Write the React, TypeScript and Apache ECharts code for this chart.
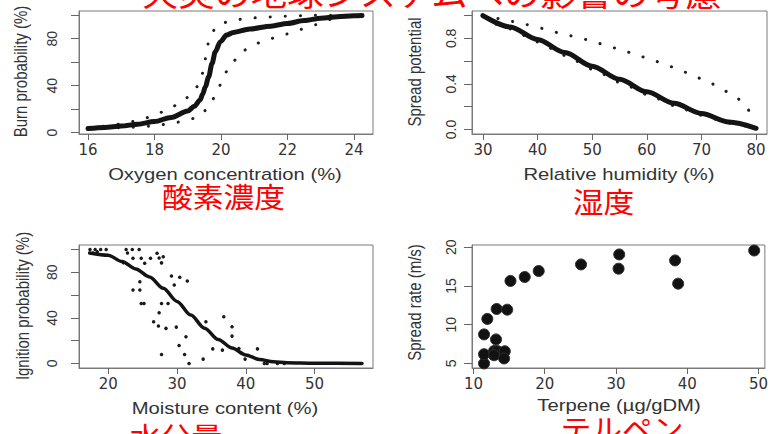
import React, { useEffect, useRef } from "react";
import * as echarts from "echarts";

// ---------- Texts ----------
const titleText = "火災の地球システムへの影響の考慮";
const redLabels = ["酸素濃度", "湿度", "水分量", "テルペン"];
const xTitles = ["Oxygen concentration (%)", "Relative humidity (%)", "Moisture content (%)", "Terpene (\u00b5g/gDM)"];
const yTitles = ["Burn probability (%)", "Spread potential", "Ignition probability (%)", "Spread rate (m/s)"];

// ---------- Panel 1: oxygen ----------
const burnFit: number[][] = [
  [16, 3.5], [16.5, 4.5], [17, 5.7], [17.5, 7.2], [18, 9.5], [18.5, 13], [19, 18.5], [19.2, 22.5],
  [19.37, 27.8], [19.45, 33], [19.53, 39.2], [19.63, 47.7], [19.73, 59], [19.83, 69], [19.98, 77.5],
  [20.17, 83.1], [20.37, 85.4], [20.87, 88.3], [21.5, 90.7], [22, 93], [22.5, 95.5], [23, 97.5],
  [23.5, 98.8], [24, 99.5], [24.24, 99.7],
];
const burnUpper: number[][] = [
  [16, 4], [16.5, 5.5], [17, 7.4], [17.5, 10.2], [17.96, 14.2], [18.37, 19.3], [18.77, 25], [19.12, 32.7],
  [19.35, 41.2], [19.47, 52], [19.52, 61.9], [19.57, 71.8], [19.67, 82.3], [19.89, 91.7], [20.3, 95.3],
  [20.8, 97.4], [21.27, 98.2], [21.75, 99], [22.73, 99.9], [23.73, 100], [24.24, 100],
];
const burnLower: number[][] = [
  [16, 3], [16.5, 3.6], [17, 4.3], [18, 5.7], [18.5, 8], [18.95, 10.2], [19.37, 14.2], [19.65, 22.7],
  [19.85, 32.7], [20.02, 42.6], [20.17, 52], [20.37, 61], [20.65, 69.8], [21.05, 76], [21.5, 80.3],
  [21.96, 84], [22.4, 88], [22.85, 92], [23.3, 96.5], [23.73, 98.7], [24.24, 99.3],
];
const oxygenTicks = [16, 18, 20, 22, 24];
const burnTicks = [0, 20, 40, 60, 80, 100];
const burnLabels = [0, 40, 80];

// ---------- Panel 2: humidity ----------
const spreadFit: number[][] = [
  [30, 1.0], [35, 0.9], [40, 0.79], [45, 0.675], [50, 0.555], [55, 0.44], [60, 0.33],
  [65, 0.23], [70, 0.14], [75, 0.065], [80, 0.01],
];
const spreadLower: number[][] = [
  [30, 0.99], [35, 0.882], [40, 0.768], [45, 0.65], [50, 0.53], [55, 0.415], [60, 0.308],
  [65, 0.21], [70, 0.125], [75, 0.055], [80, 0.005],
];
const spreadUpper: number[][] = [
  [30, 1.0], [33.16, 0.973], [36.1, 0.944], [38.8, 0.915], [41.55, 0.88], [44.4, 0.842], [47.26, 0.81],
  [50.07, 0.775], [52.74, 0.733], [55.5, 0.696], [58.2, 0.652], [61, 0.608], [63.6, 0.564],
  [66.3, 0.514], [68.9, 0.461], [71.5, 0.409], [73.9, 0.345], [76.35, 0.28], [78.2, 0.198],
  [79.4, 0.105], [80, 0.08],
];
const humidityTicks = [30, 40, 50, 60, 70, 80];
const potentialTicks = [0, 0.2, 0.4, 0.6, 0.8, 1.0];
const potentialLabels = [0, 0.4, 0.8];

// ---------- Panel 3: moisture ----------
const ignitionFit: number[][] = [
  [17.3, 97], [20, 95], [22, 89.5], [24, 83], [26, 76], [28, 66], [30, 54.5], [32, 42.5],
  [34, 31], [36, 21], [38, 13.5], [40, 7.5], [42, 3.5], [44, 1.5], [46, 0.7], [50, 0.2], [56.9, 0.05],
];
const ignitionObs: number[][] = [
  [17.35, 100], [18.1, 100], [18.9, 100], [19.7, 100], [17.8, 97], [18.4, 98],
  [22.6, 100], [23.5, 100], [24.5, 100], [22.8, 97], [22.2, 88.4],
  [23.6, 92.3], [24.8, 92.3], [26.15, 92.3], [25.3, 87.9], [27.1, 96.7], [27.75, 88.3], [28, 93.7], [27.4, 92.5],
  [24.6, 71.7], [23.6, 64.4], [24.6, 64.4], [24.8, 52.7], [25.2, 52.7], [27.75, 52.7], [28.7, 52.7], [27.4, 44.5],
  [29.2, 76.7], [30.4, 75.6], [31.5, 72.4], [29.6, 68.8],
  [26.6, 36.6], [27.3, 32.8], [28.4, 30.8], [29.9, 31.9], [34.2, 36.6], [31.3, 23.4], [30.3, 15.8],
  [27.75, 7.9], [31.1, 7.9], [31.75, 0], [33.8, 3.8], [35.2, 12.8],
  [36.8, 41], [36.6, 11.7], [38.0, 32.2], [38.0, 24], [39, 13.2], [39.9, 3.8], [41.7, 12.8],
  [42.7, 0], [43.1, 0], [44.6, 0], [45.6, 0],
];
const moistureTicks = [20, 30, 40, 50];
const ignitionTicks = [0, 20, 40, 60, 80, 100];
const ignitionLabels = [0, 40, 80];

// ---------- Panel 4: terpene ----------
const terpeneObs: number[][] = [
  [11.49, 5.0], [11.49, 6.19], [11.49, 8.75], [11.95, 10.75], [13.26, 12.03], [14.74, 11.94],
  [13.17, 8.1], [12.9, 6.6], [13.35, 6.6], [12.9, 6.06], [14.4, 6.57], [14.3, 5.64],
  [15.2, 15.65], [17.2, 16.16], [19.16, 16.93], [25.1, 17.78], [30.46, 19.07], [30.37, 17.23],
  [38.3, 18.3], [38.73, 15.3], [49.4, 19.58],
];
const terpeneTicks = [10, 20, 30, 40, 50];
const rateTicks = [5, 10, 15, 20];

const TICK_FONT = "DejaVu Sans";
const R_FONT = "Liberation Sans";
const CJK_FONT = "Noto Sans CJK JP";

function xAxisDef(grid: number, min: number, max: number, ticks: number[]) {
  return {
    type: "value", gridIndex: grid, min, max,
    axisLine: { show: true, onZero: false, lineStyle: { color: "#7a7a7a", width: 1 } },
    splitLine: { show: false },
    axisTick: { show: true, length: 6, customValues: ticks, lineStyle: { color: "#666", width: 1 } },
    axisLabel: { customValues: ticks, margin: 8, fontSize: 15, fontFamily: TICK_FONT, color: "#333" },
  };
}
function yAxisDef(grid: number, min: number, max: number, ticks: number[], labels: number[], margin: number, fmt?: (v: number) => string) {
  return {
    type: "value", gridIndex: grid, min, max,
    axisLine: { show: true, onZero: false, lineStyle: { color: "#7a7a7a", width: 1 } },
    splitLine: { show: false },
    axisTick: { show: true, length: 8, customValues: ticks, lineStyle: { color: "#666", width: 1 } },
    axisLabel: {
      customValues: labels, rotate: 90, margin, fontSize: 14, fontFamily: R_FONT, color: "#333",
      formatter: fmt ? fmt : (v: number) => String(v),
    },
  };
}

const fitLine = (data: number[][], axis: number, width: number) => ({
  type: "line", xAxisIndex: axis, yAxisIndex: axis, data, showSymbol: false, symbol: "none",
  smooth: 0.3, smoothMonotone: "x",
  lineStyle: { color: "#141414", width, cap: "round", join: "round" },
  silent: true,
});
const bandLine = (data: number[][], axis: number) => ({
  type: "line", xAxisIndex: axis, yAxisIndex: axis, data, showSymbol: false, symbol: "none",
  smooth: 0.3, smoothMonotone: "x",
  lineStyle: { color: "#1e1e1e", width: 3, type: [0.1, 15], cap: "round" },
  silent: true,
});

function xTitle(text: string, x: number, y: number) {
  return {
    type: "text", x, y, scaleX: 1.19,
    style: { text, fill: "#333", fontSize: 17, fontFamily: R_FONT, align: "center", verticalAlign: "middle", textAlign: "center", textVerticalAlign: "middle" },
  };
}
function yTitle(text: string, x: number, y: number) {
  return {
    type: "text", x, y, rotation: Math.PI / 2, scaleY: 1.19,
    style: { text, fill: "#333", fontSize: 15, fontFamily: R_FONT, align: "center", verticalAlign: "middle", textAlign: "center", textVerticalAlign: "middle" },
  };
}
function redText(text: string, x: number, y: number, size: number) {
  return {
    type: "text", x, y, scaleX: 1.1,
    style: { text, fill: "#ff0000", fontSize: size, fontFamily: CJK_FONT, align: "center", verticalAlign: "middle", textAlign: "center", textVerticalAlign: "middle" },
  };
}

export default function App() {
  const ref = useRef<HTMLDivElement>(null);
  useEffect(() => {
    if (!ref.current) return;
    const chart = echarts.init(ref.current, null, { renderer: "svg" });
    const gridBase = { show: true, borderColor: "#7a7a7a", borderWidth: 1, backgroundColor: "transparent", containLabel: false };
    chart.setOption({
      animation: false,
      backgroundColor: "#ffffff",
      textStyle: { fontFamily: R_FONT },
      grid: [
        { ...gridBase, left: 79, top: 11, width: 294, height: 123 },
        { ...gridBase, left: 472, top: 11, width: 295, height: 123 },
        { ...gridBase, left: 79, top: 245, width: 294, height: 123 },
        { ...gridBase, left: 472, top: 245, width: 295, height: 123 },
      ],
      xAxis: [
        xAxisDef(0, 15.73, 24.57, oxygenTicks),
        xAxisDef(1, 28, 82, humidityTicks),
        xAxisDef(2, 15.75, 58.5, moistureTicks),
        xAxisDef(3, 9.8, 50.9, terpeneTicks),
      ],
      yAxis: [
        yAxisDef(0, -1.1, 103.6, burnTicks, burnLabels, 20),
        yAxisDef(1, -0.04, 1.04, potentialTicks, potentialLabels, 14, (v: number) => v.toFixed(1)),
        yAxisDef(2, -4, 104, ignitionTicks, ignitionLabels, 20),
        yAxisDef(3, 4.41, 20.29, rateTicks, rateTicks, 14),
      ],
      series: [
        bandLine(burnUpper, 0),
        bandLine(burnLower, 0),
        fitLine(burnFit, 0, 5),
        bandLine(spreadUpper, 1),
        bandLine(spreadLower, 1),
        fitLine(spreadFit, 1, 5),
        {
          type: "scatter", xAxisIndex: 2, yAxisIndex: 2, data: ignitionObs, symbolSize: 3.5,
          itemStyle: { color: "#1a1a1a", opacity: 1 }, silent: true,
        },
        fitLine(ignitionFit, 2, 3.5),
        {
          type: "scatter", xAxisIndex: 3, yAxisIndex: 3, data: terpeneObs, symbolSize: 11,
          itemStyle: { color: "#121212", borderColor: "#2e2e2e", borderWidth: 1, opacity: 1 }, silent: true,
        },
      ],
      graphic: [
        xTitle(xTitles[0], 225, 174),
        xTitle(xTitles[1], 619, 174),
        xTitle(xTitles[2], 225, 408),
        xTitle(xTitles[3], 619, 405),
        yTitle(yTitles[0], 20.5, 71.5),
        yTitle(yTitles[1], 415, 72),
        yTitle(yTitles[2], 22.5, 306),
        yTitle(yTitles[3], 415, 302.5),
        redText(redLabels[0], 223.5, 196, 28),
        redText(redLabels[1], 603.5, 201, 28),
        redText(redLabels[2], 176, 436, 28),
        redText(redLabels[3], 622, 428, 28),
        {
          type: "text", x: 142, y: -8, scaleX: 1.1,
          style: { text: titleText, fill: "#ff0000", fontSize: 33, fontFamily: CJK_FONT, align: "left", verticalAlign: "middle", textAlign: "left", textVerticalAlign: "middle" },
        },
      ],
    });
    return () => chart.dispose();
  }, []);
  return <div ref={ref} style={{ position: "fixed", left: 0, top: 0, width: 771, height: 434, background: "#fff" }} />;
}
